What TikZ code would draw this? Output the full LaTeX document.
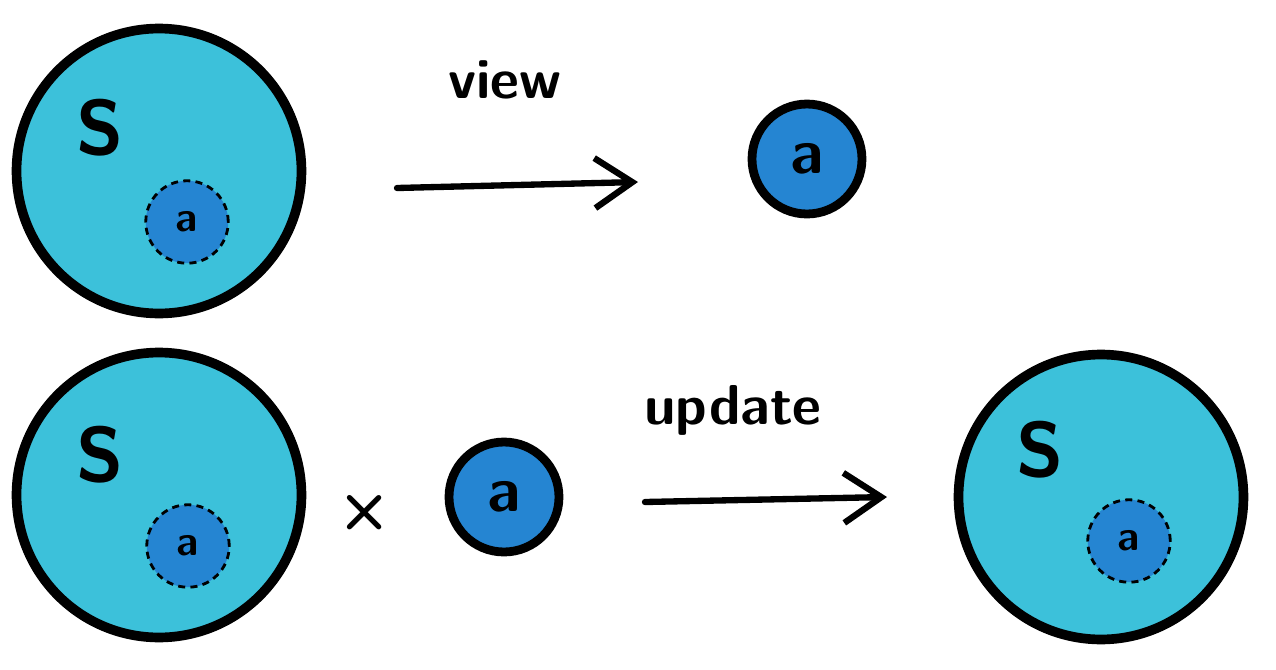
\documentclass[tikz,border=0pt]{standalone}
\usepackage{tikz}
\usetikzlibrary{arrows.meta}
\definecolor{stateCyan}{HTML}{3CC1DA}
\definecolor{focusBlue}{HTML}{2585D2}
\begin{document}
\begin{tikzpicture}[
    x=0.02cm, y=-0.02cm,
    state/.style={circle, draw=black, line width=5.5pt, fill=stateCyan, minimum size=5.7cm, inner sep=0pt},
    part/.style={circle, draw=black, dash pattern=on 4pt off 3pt, line width=1.6pt, fill=focusBlue, minimum size=1.65cm, inner sep=0pt, font=\sffamily\bfseries\fontsize{24}{24}\selectfont},
    focus/.style={circle, draw=black, line width=5pt, fill=focusBlue, minimum size=2.2cm, inner sep=0pt, font=\sffamily\bfseries\fontsize{36}{36}\selectfont},
    letter/.style={font=\sffamily\bfseries\fontsize{44}{44}\selectfont},
    label/.style={font=\sffamily\bfseries\fontsize{32}{32}\selectfont},
    arrow/.style={-{Straight Barb[length=0.75cm, width=1cm]}, line width=3.6pt, line cap=round}
]
\useasboundingbox (0,0) rectangle (1276,670);

% View: whole state to its part
\node[state] (stateView) at (159,171) {};
\node[letter] (sView) at (100,128) {S};
\node[part] (partView) at (187,222) {a};
\coordinate (viewFrom) at (397,188);
\coordinate (viewTo) at (638,182);
\node[label] (viewLabel) at (505,80) {view};
\node[focus] (focusView) at (807,159) {a};

% Update: state and new part to new state
\node[state] (stateOld) at (159,495) {};
\node[letter] (sOld) at (100,455) {S};
\node[part] (partOld) at (188,546) {a};
\node[font=\sffamily\bfseries\fontsize{36}{36}\selectfont] (times) at (365,513) {×};
\node[focus] (focusNew) at (504,497) {a};
\coordinate (updateFrom) at (645,502);
\coordinate (updateTo) at (887,497);
\node[label] (updateLabel) at (733,410) {update};
\node[state] (stateNew) at (1101,497) {};
\node[letter] (sNew) at (1040,450) {S};
\node[part] (partNew) at (1129,541) {a};

% Arrows
\draw[arrow] (viewFrom) -- (viewTo);
\draw[arrow] (updateFrom) -- (updateTo);

\end{tikzpicture}
\end{document}
